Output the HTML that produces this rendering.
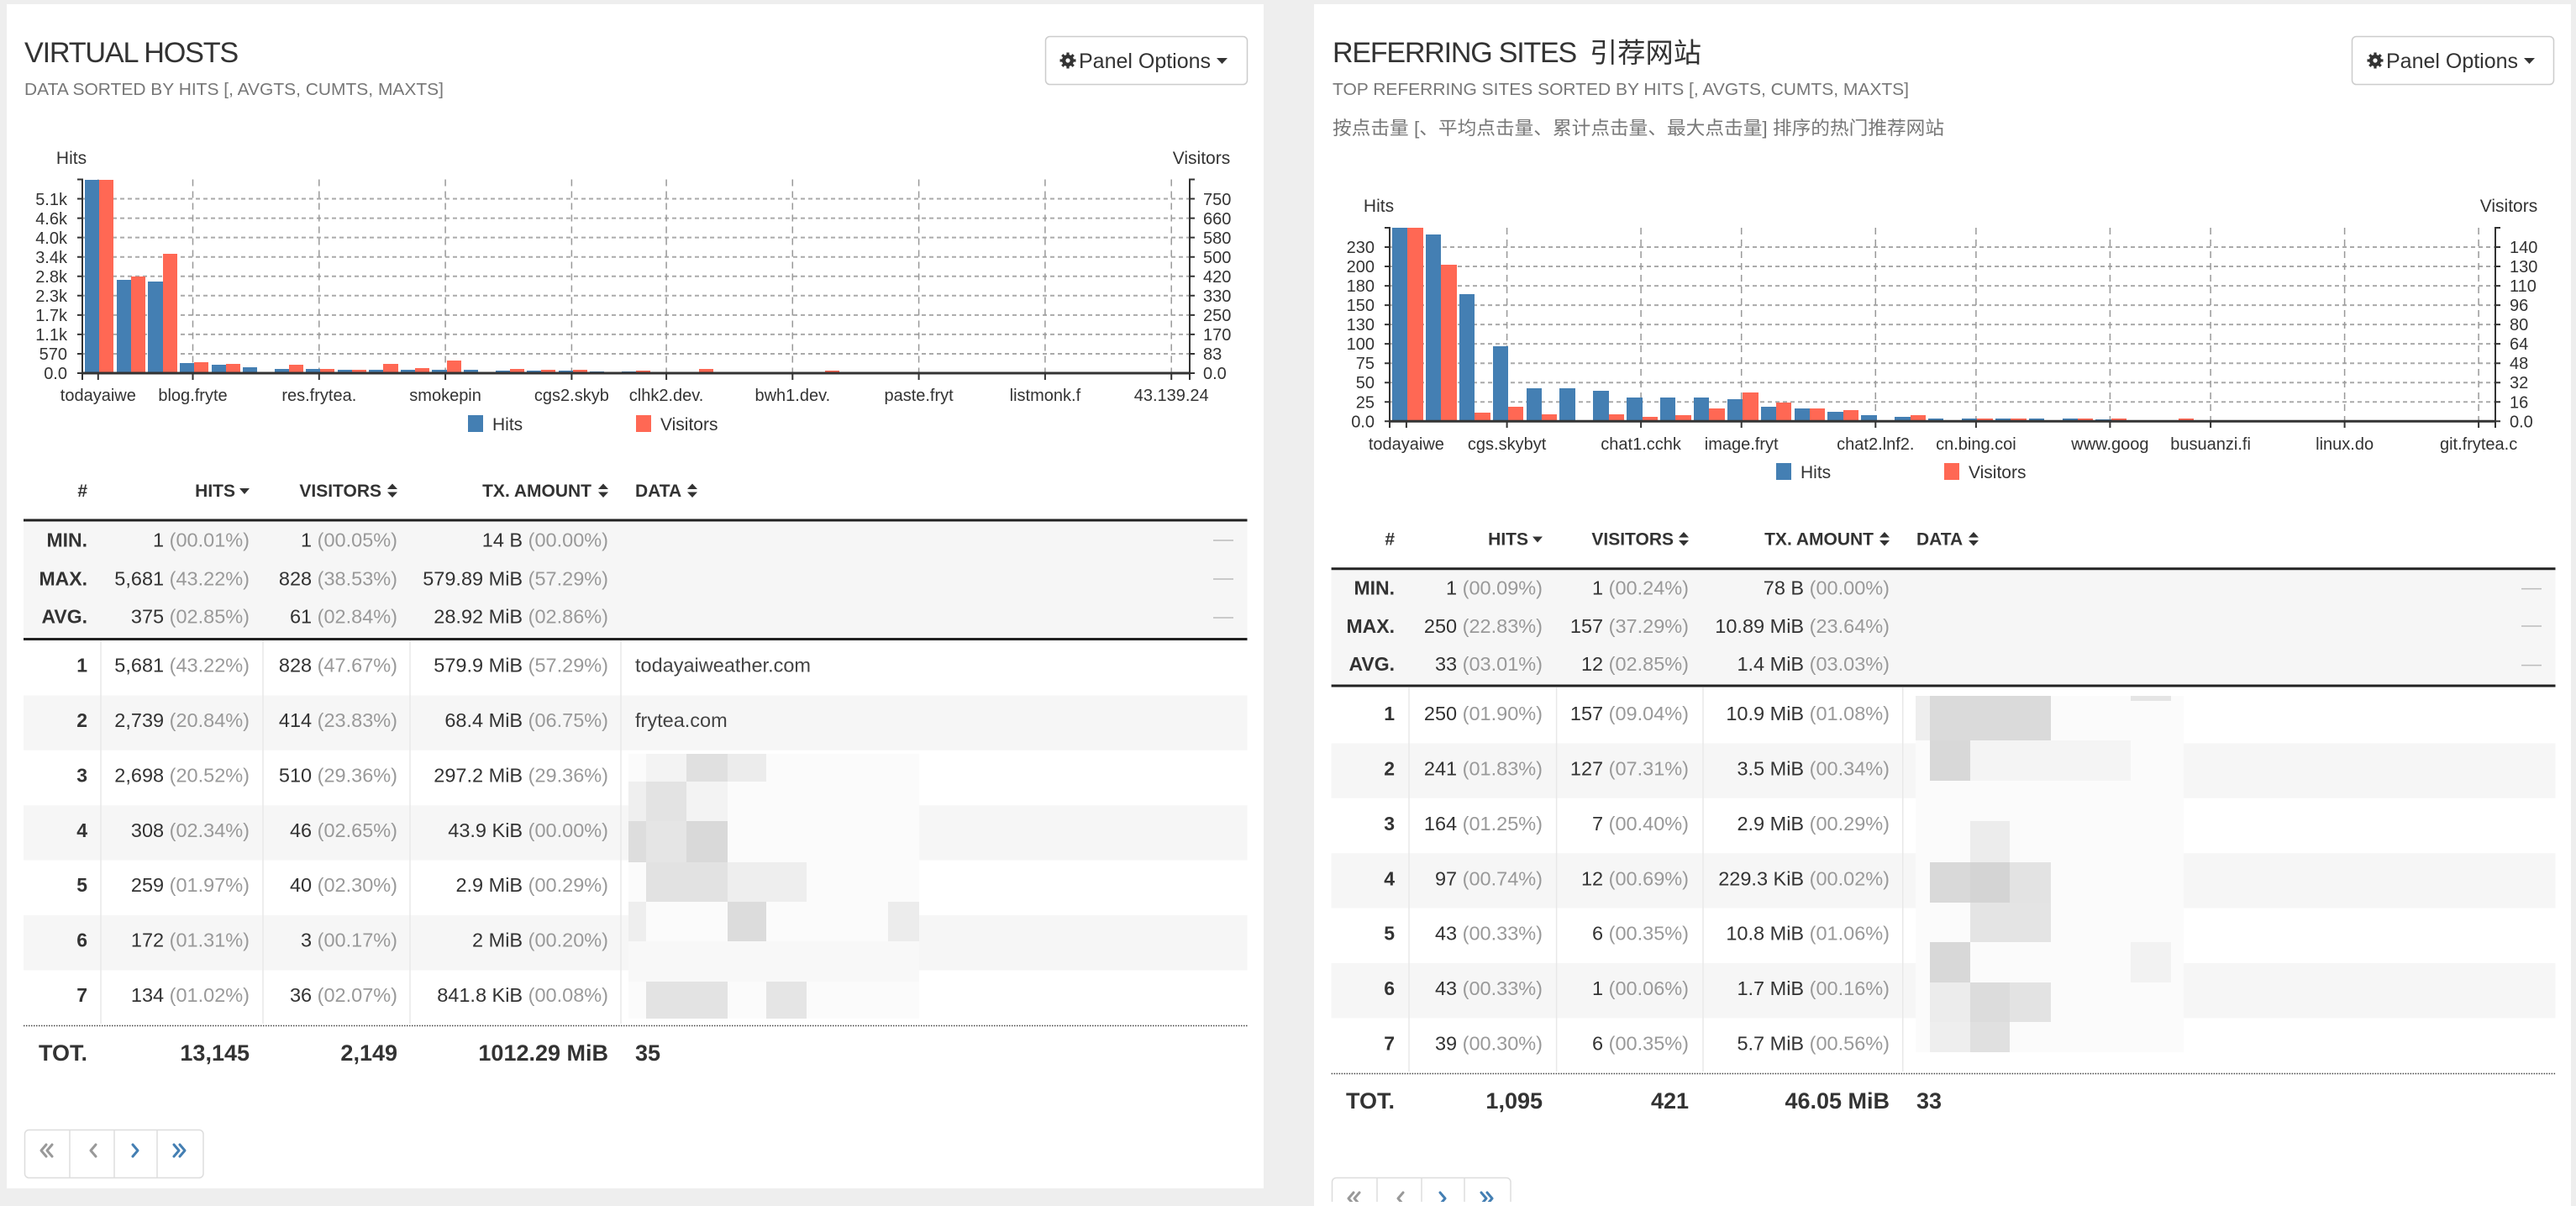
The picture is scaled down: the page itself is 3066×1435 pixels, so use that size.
<!DOCTYPE html>
<html><head><meta charset="utf-8">
<style>
body{margin:0;width:3066px;height:1430px;background:#eeeeee;position:relative;overflow:hidden;font-family:"Liberation Sans",Arial,sans-serif}
.panel{position:absolute;background:#fff}
svg{position:absolute;left:0;top:0}
.bars{position:absolute;display:flex;align-items:flex-end}
.bars>div{flex:none;display:flex;align-items:flex-end;box-sizing:border-box;height:100%}
.L>div{width:37.57px;padding-left:3.3px}
.L i{width:17.1px}
.R>div{width:39.88px;padding-left:3px}
.R i{width:18.4px}
i{display:block;flex:none}
.b{background:#447fb3}.r{background:#ff6854}
.t{font-size:34px;fill:#333;letter-spacing:-1.2px}
.st{font-size:20.6px;fill:#777}
.ax{font-size:20px;fill:#333}
.axe{font-size:20px;fill:#333;text-anchor:end}
.axm{font-size:20px;fill:#333;text-anchor:middle}
.lab{font-size:21px;fill:#333}
.th{font-size:21px;font-weight:bold;fill:#333;text-anchor:end}
.thl{font-size:21px;font-weight:bold;fill:#333}
.d{font-size:23.5px;fill:#333;text-anchor:end}
.dl{font-size:23.5px;fill:#444}
.p{fill:#999}
.sl{font-size:23px;font-weight:bold;fill:#333;text-anchor:end}
.tot{font-size:27px;font-weight:bold;fill:#333;text-anchor:end}
.totl{font-size:27px;font-weight:bold;fill:#333}
.btn{font-size:25px;fill:#333}
</style></head><body>
<div class="panel" style="left:8px;top:5px;width:1496px;height:1409px"></div>
<div class="panel" style="left:1564px;top:5px;width:1496px;height:1430px"></div>

<svg width="3066" height="1430">
<g fill="none" stroke="#aaa" stroke-width="2" stroke-dasharray="5,4">
<path d="M98,420.95H1416M98,397.9H1416M98,374.85H1416M98,351.8H1416M98,328.75H1416M98,305.7H1416M98,282.65H1416M98,259.6H1416M98,236.55H1416"/>
<path d="M1654,478.27H2970M1654,455.24H2970M1654,432.21H2970M1654,409.18H2970M1654,386.15H2970M1654,363.12H2970M1654,340.09H2970M1654,317.06H2970M1654,294.03H2970"/>
</g>
<g fill="none" stroke="#999" stroke-width="1.5" stroke-dasharray="8,6">
<path d="M116.8,213.5V444M229.5,213.5V444M379.8,213.5V444M530.1,213.5V444M680.4,213.5V444M793.1,213.5V444M943.3,213.5V444M1093.6,213.5V444M1243.9,213.5V444M1394.2,213.5V444"/>
<path d="M1673.9,271V501.3M1793.6,271V501.3M1953.1,271V501.3M2072.7,271V501.3M2232.3,271V501.3M2351.9,271V501.3M2511.4,271V501.3M2631.1,271V501.3M2790.6,271V501.3M2950.1,271V501.3"/>
</g>
</svg>

<div class="bars L" style="left:98px;top:213.5px;width:1315px;height:230.5px">
<div><i class="b" style="height:230.5px"></i><i class="r" style="height:230.5px"></i></div>
<div><i class="b" style="height:111.1px"></i><i class="r" style="height:115.3px"></i></div>
<div><i class="b" style="height:109.5px"></i><i class="r" style="height:142px"></i></div>
<div><i class="b" style="height:12.5px"></i><i class="r" style="height:12.8px"></i></div>
<div><i class="b" style="height:10.5px"></i><i class="r" style="height:11.1px"></i></div>
<div><i class="b" style="height:7px"></i><i class="r" style="height:0.8px"></i></div>
<div><i class="b" style="height:5.4px"></i><i class="r" style="height:10px"></i></div>
<div><i class="b" style="height:4.7px"></i><i class="r" style="height:4.7px"></i></div>
<div><i class="b" style="height:3.7px"></i><i class="r" style="height:3.7px"></i></div>
<div><i class="b" style="height:3.7px"></i><i class="r" style="height:11.3px"></i></div>
<div><i class="b" style="height:3.7px"></i><i class="r" style="height:5.7px"></i></div>
<div><i class="b" style="height:3.7px"></i><i class="r" style="height:15.3px"></i></div>
<div><i class="b" style="height:3.7px"></i><i class="r" style="height:0.7px"></i></div>
<div><i class="b" style="height:2.7px"></i><i class="r" style="height:5px"></i></div>
<div><i class="b" style="height:2.7px"></i><i class="r" style="height:3.7px"></i></div>
<div><i class="b" style="height:2.7px"></i><i class="r" style="height:3.7px"></i></div>
<div><i class="b" style="height:2px"></i><i class="r" style="height:0.7px"></i></div>
<div><i class="b" style="height:2px"></i><i class="r" style="height:3.3px"></i></div>
<div><i class="b" style="height:1.5px"></i><i class="r" style="height:0.7px"></i></div>
<div><i class="b" style="height:1.2px"></i><i class="r" style="height:5.3px"></i></div>
<div><i class="b" style="height:1.2px"></i><i class="r" style="height:0.7px"></i></div>
<div><i class="b" style="height:1.2px"></i><i class="r" style="height:1px"></i></div>
<div><i class="b" style="height:1px"></i><i class="r" style="height:0.7px"></i></div>
<div><i class="b" style="height:1px"></i><i class="r" style="height:3.3px"></i></div>
<div><i class="b" style="height:1px"></i><i class="r" style="height:0.7px"></i></div>
<div><i class="b" style="height:0.8px"></i><i class="r" style="height:1px"></i></div>
<div><i class="b" style="height:0.6px"></i><i class="r" style="height:0.5px"></i></div>
<div><i class="b" style="height:0.6px"></i><i class="r" style="height:0.5px"></i></div>
<div><i class="b" style="height:0.6px"></i><i class="r" style="height:0.5px"></i></div>
<div><i class="b" style="height:0.6px"></i><i class="r" style="height:0.5px"></i></div>
<div><i class="b" style="height:0.6px"></i><i class="r" style="height:0.5px"></i></div>
<div><i class="b" style="height:0.6px"></i><i class="r" style="height:0.5px"></i></div>
<div><i class="b" style="height:0.6px"></i><i class="r" style="height:0.5px"></i></div>
<div><i class="b" style="height:0.6px"></i><i class="r" style="height:0.5px"></i></div>
<div><i class="b" style="height:0.6px"></i><i class="r" style="height:0.5px"></i></div>
</div>

<div class="bars R" style="left:1654px;top:271px;width:1316px;height:230.3px">
<div><i class="b" style="height:230.3px"></i><i class="r" style="height:230.3px"></i></div>
<div><i class="b" style="height:222.2px"></i><i class="r" style="height:186.3px"></i></div>
<div><i class="b" style="height:151.2px"></i><i class="r" style="height:10.3px"></i></div>
<div><i class="b" style="height:89.4px"></i><i class="r" style="height:17.6px"></i></div>
<div><i class="b" style="height:39.6px"></i><i class="r" style="height:8.8px"></i></div>
<div><i class="b" style="height:39.6px"></i><i class="r" style="height:1.5px"></i></div>
<div><i class="b" style="height:36px"></i><i class="r" style="height:8.8px"></i></div>
<div><i class="b" style="height:28.3px"></i><i class="r" style="height:5px"></i></div>
<div><i class="b" style="height:28.3px"></i><i class="r" style="height:7.3px"></i></div>
<div><i class="b" style="height:28.3px"></i><i class="r" style="height:15px"></i></div>
<div><i class="b" style="height:26.7px"></i><i class="r" style="height:34px"></i></div>
<div><i class="b" style="height:17.3px"></i><i class="r" style="height:22.7px"></i></div>
<div><i class="b" style="height:15.3px"></i><i class="r" style="height:15.3px"></i></div>
<div><i class="b" style="height:11px"></i><i class="r" style="height:13px"></i></div>
<div><i class="b" style="height:7px"></i><i class="r" style="height:0.7px"></i></div>
<div><i class="b" style="height:5px"></i><i class="r" style="height:7px"></i></div>
<div><i class="b" style="height:3.7px"></i><i class="r" style="height:1px"></i></div>
<div><i class="b" style="height:3.3px"></i><i class="r" style="height:3.3px"></i></div>
<div><i class="b" style="height:3.3px"></i><i class="r" style="height:3.3px"></i></div>
<div><i class="b" style="height:3.3px"></i><i class="r" style="height:1px"></i></div>
<div><i class="b" style="height:3.3px"></i><i class="r" style="height:3.3px"></i></div>
<div><i class="b" style="height:2.3px"></i><i class="r" style="height:3.3px"></i></div>
<div><i class="b" style="height:1.7px"></i><i class="r" style="height:1px"></i></div>
<div><i class="b" style="height:1.7px"></i><i class="r" style="height:3.3px"></i></div>
<div><i class="b" style="height:1.5px"></i><i class="r" style="height:1px"></i></div>
<div><i class="b" style="height:1.5px"></i><i class="r" style="height:1px"></i></div>
<div><i class="b" style="height:1.5px"></i><i class="r" style="height:1px"></i></div>
<div><i class="b" style="height:1.5px"></i><i class="r" style="height:1px"></i></div>
<div><i class="b" style="height:1.5px"></i><i class="r" style="height:1px"></i></div>
<div><i class="b" style="height:1.5px"></i><i class="r" style="height:1px"></i></div>
<div><i class="b" style="height:1.5px"></i><i class="r" style="height:1px"></i></div>
<div><i class="b" style="height:1.5px"></i><i class="r" style="height:1px"></i></div>
<div><i class="b" style="height:1.5px"></i><i class="r" style="height:1px"></i></div>
</div>

<svg width="3066" height="1430" font-family="'Liberation Sans', Arial, sans-serif">
<!-- ===== LEFT PANEL HEADER ===== -->
<text class="t" x="29" y="74" textLength="254" lengthAdjust="spacingAndGlyphs">VIRTUAL HOSTS</text>
<text class="st" x="29" y="113" textLength="499" lengthAdjust="spacingAndGlyphs">DATA SORTED BY HITS [, AVGTS, CUMTS, MAXTS]</text>
<rect x="1244.5" y="43.5" width="240" height="57" rx="5" fill="#fff" stroke="#ccc" stroke-width="1.5"/>
<g transform="translate(1271,72)" fill="#333"><circle r="7"/><g stroke="#333" stroke-width="3.2"><path d="M0,-9.5V9.5M-9.5,0H9.5M-6.7,-6.7L6.7,6.7M-6.7,6.7L6.7,-6.7"/></g><circle r="2.6" fill="#fff"/></g>
<text class="btn" x="1284" y="81">Panel Options</text>
<polygon points="1448,69 1461,69 1454.5,76" fill="#333"/>

<!-- ===== RIGHT PANEL HEADER ===== -->
<text class="t" x="1586" y="74" textLength="290" lengthAdjust="spacingAndGlyphs">REFERRING SITES</text>
<text x="1892" y="74" font-size="32.5" fill="#333" font-family="'Liberation Sans','Noto Sans CJK SC',sans-serif" textLength="133" lengthAdjust="spacingAndGlyphs">引荐网站</text>
<text class="st" x="1586" y="113" textLength="686" lengthAdjust="spacingAndGlyphs">TOP REFERRING SITES SORTED BY HITS [, AVGTS, CUMTS, MAXTS]</text>
<text x="1586" y="160" font-size="22" fill="#777" font-family="'Liberation Sans','Noto Sans CJK SC',sans-serif" textLength="728" lengthAdjust="spacingAndGlyphs">按点击量 [、平均点击量、累计点击量、最大点击量] 排序的热门推荐网站</text>
<rect x="2799.5" y="43.5" width="240" height="57" rx="5" fill="#fff" stroke="#ccc" stroke-width="1.5"/>
<g transform="translate(2827,72)" fill="#333"><circle r="7"/><g stroke="#333" stroke-width="3.2"><path d="M0,-9.5V9.5M-9.5,0H9.5M-6.7,-6.7L6.7,6.7M-6.7,6.7L6.7,-6.7"/></g><circle r="2.6" fill="#fff"/></g>
<text class="btn" x="2840" y="81">Panel Options</text>
<polygon points="3004,69 3017,69 3010.5,76" fill="#333"/>

<!-- ===== LEFT CHART AXES ===== -->
<text class="lab" x="85" y="195" text-anchor="middle">Hits</text>
<text class="lab" x="1430" y="195" text-anchor="middle">Visitors</text>
<g fill="none" stroke="#333" stroke-width="2">
<path d="M92,213.5H98V444M1422,213.5H1416V444"/>
<path d="M92,420.95H98M92,397.9H98M92,374.85H98M92,351.8H98M92,328.75H98M92,305.7H98M92,282.65H98M92,259.6H98M92,236.55H98M92,444H98"/>
<path d="M1416,420.95H1422M1416,397.9H1422M1416,374.85H1422M1416,351.8H1422M1416,328.75H1422M1416,305.7H1422M1416,282.65H1422M1416,259.6H1422M1416,236.55H1422M1416,444H1422"/>
<path d="M98,452V444M1416,452V444M116.8,444V452M229.5,444V452M379.8,444V452M530.1,444V452M680.4,444V452M793.1,444V452M943.3,444V452M1093.6,444V452M1243.9,444V452M1394.2,444V452"/>
</g>
<path d="M97,444H1417" stroke="#333" stroke-width="3"/>
<text class="axe" x="80" y="451">0.0</text><text class="axe" x="80" y="428">570</text><text class="axe" x="80" y="405">1.1k</text><text class="axe" x="80" y="382">1.7k</text><text class="axe" x="80" y="359">2.3k</text><text class="axe" x="80" y="336">2.8k</text><text class="axe" x="80" y="313">3.4k</text><text class="axe" x="80" y="290">4.0k</text><text class="axe" x="80" y="267">4.6k</text><text class="axe" x="80" y="244">5.1k</text>
<text class="ax" x="1432" y="451">0.0</text><text class="ax" x="1432" y="428">83</text><text class="ax" x="1432" y="405">170</text><text class="ax" x="1432" y="382">250</text><text class="ax" x="1432" y="359">330</text><text class="ax" x="1432" y="336">420</text><text class="ax" x="1432" y="313">500</text><text class="ax" x="1432" y="290">580</text><text class="ax" x="1432" y="267">660</text><text class="ax" x="1432" y="244">750</text>
<text class="axm" x="116.8" y="477">todayaiwe</text><text class="axm" x="229.5" y="477">blog.fryte</text><text class="axm" x="379.8" y="477">res.frytea.</text><text class="axm" x="530.1" y="477">smokepin</text><text class="axm" x="680.4" y="477">cgs2.skyb</text><text class="axm" x="793.1" y="477">clhk2.dev.</text><text class="axm" x="943.3" y="477">bwh1.dev.</text><text class="axm" x="1093.6" y="477">paste.fryt</text><text class="axm" x="1243.9" y="477">listmonk.f</text><text class="axm" x="1394.2" y="477">43.139.24</text>
<rect x="557" y="494" width="18" height="20" fill="#447fb3"/><text class="lab" x="586" y="512">Hits</text>
<rect x="757" y="494" width="18" height="20" fill="#ff6854"/><text class="lab" x="786" y="512">Visitors</text>

<!-- ===== RIGHT CHART AXES ===== -->
<text class="lab" x="1641" y="252" text-anchor="middle">Hits</text>
<text class="lab" x="2986" y="252" text-anchor="middle">Visitors</text>
<g fill="none" stroke="#333" stroke-width="2">
<path d="M1648,271H1654V501.3M2976,271H2970V501.3"/>
<path d="M1648,478.27H1654M1648,455.24H1654M1648,432.21H1654M1648,409.18H1654M1648,386.15H1654M1648,363.12H1654M1648,340.09H1654M1648,317.06H1654M1648,294.03H1654M1648,501.3H1654"/>
<path d="M2970,478.27H2976M2970,455.24H2976M2970,432.21H2976M2970,409.18H2976M2970,386.15H2976M2970,363.12H2976M2970,340.09H2976M2970,317.06H2976M2970,294.03H2976M2970,501.3H2976"/>
<path d="M1654,509V501M2970,509V501M1673.9,501V509M1793.6,501V509M1953.1,501V509M2072.7,501V509M2232.3,501V509M2351.9,501V509M2511.4,501V509M2631.1,501V509M2790.6,501V509M2950.1,501V509"/>
</g>
<path d="M1653,501.3H2971" stroke="#333" stroke-width="3"/>
<text class="axe" x="1636" y="508.3">0.0</text><text class="axe" x="1636" y="485.3">25</text><text class="axe" x="1636" y="462.2">50</text><text class="axe" x="1636" y="439.2">75</text><text class="axe" x="1636" y="416.2">100</text><text class="axe" x="1636" y="393.2">130</text><text class="axe" x="1636" y="370.1">150</text><text class="axe" x="1636" y="347.1">180</text><text class="axe" x="1636" y="324.1">200</text><text class="axe" x="1636" y="301">230</text>
<text class="ax" x="2987" y="508.3">0.0</text><text class="ax" x="2987" y="485.3">16</text><text class="ax" x="2987" y="462.2">32</text><text class="ax" x="2987" y="439.2">48</text><text class="ax" x="2987" y="416.2">64</text><text class="ax" x="2987" y="393.2">80</text><text class="ax" x="2987" y="370.1">96</text><text class="ax" x="2987" y="347.1">110</text><text class="ax" x="2987" y="324.1">130</text><text class="ax" x="2987" y="301">140</text>
<text class="axm" x="1673.9" y="535">todayaiwe</text><text class="axm" x="1793.6" y="535">cgs.skybyt</text><text class="axm" x="1953.1" y="535">chat1.cchk</text><text class="axm" x="2072.7" y="535">image.fryt</text><text class="axm" x="2232.3" y="535">chat2.lnf2.</text><text class="axm" x="2351.9" y="535">cn.bing.coi</text><text class="axm" x="2511.4" y="535">www.goog</text><text class="axm" x="2631.1" y="535">busuanzi.fi</text><text class="axm" x="2790.6" y="535">linux.do</text><text class="axm" x="2950.1" y="535">git.frytea.c</text>
<rect x="2114" y="551" width="18" height="20" fill="#447fb3"/><text class="lab" x="2143" y="569">Hits</text>
<rect x="2314" y="551" width="18" height="20" fill="#ff6854"/><text class="lab" x="2343" y="569">Visitors</text>

<!-- ===== LEFT TABLE ===== -->
<rect x="28" y="620.5" width="1456.5" height="138.5" fill="#f6f6f6"/>
<rect x="28" y="827.4" width="1456.5" height="65.4" fill="#f6f6f6"/>
<rect x="28" y="958.2" width="1456.5" height="65.4" fill="#f6f6f6"/>
<rect x="28" y="1089" width="1456.5" height="65.4" fill="#f6f6f6"/>
<path d="M120,762V1218M313,762V1218M488,762V1218M739,762V1218" stroke="#e8e8e8" stroke-width="1.5"/>
<path d="M28,619H1484.5M28,760.5H1484.5" stroke="#222" stroke-width="3"/>
<path d="M28,1220.5H1484.5" stroke="#444" stroke-width="1.5" stroke-dasharray="1.5,1.5"/>
<text class="th" x="104" y="591">#</text>
<text class="th" x="280" y="591">HITS</text><polygon points="285,581 297,581 291,588" fill="#333"/>
<text class="th" x="454" y="591">VISITORS</text><polygon points="461,582 473,582 467,575.5" fill="#333"/><polygon points="461,585.5 473,585.5 467,592" fill="#333"/>
<text class="th" x="704" y="591">TX. AMOUNT</text><polygon points="712,582 724,582 718,575.5" fill="#333"/><polygon points="712,585.5 724,585.5 718,592" fill="#333"/>
<text class="thl" x="756" y="591">DATA</text><polygon points="818,582 830,582 824,575.5" fill="#333"/><polygon points="818,585.5 830,585.5 824,592" fill="#333"/>

<text class="sl" x="104" y="650.6">MIN.</text>
<text class="d" x="297" y="650.6">1<tspan class="p">&#160;(00.01%)</tspan></text>
<text class="d" x="473" y="650.6">1<tspan class="p">&#160;(00.05%)</tspan></text>
<text class="d" x="724" y="650.6">14 B<tspan class="p">&#160;(00.00%)</tspan></text>
<text class="sl" x="104" y="696.6">MAX.</text>
<text class="d" x="297" y="696.6">5,681<tspan class="p">&#160;(43.22%)</tspan></text>
<text class="d" x="473" y="696.6">828<tspan class="p">&#160;(38.53%)</tspan></text>
<text class="d" x="724" y="696.6">579.89 MiB<tspan class="p">&#160;(57.29%)</tspan></text>
<text class="sl" x="104" y="741.6">AVG.</text>
<text class="d" x="297" y="741.6">375<tspan class="p">&#160;(02.85%)</tspan></text>
<text class="d" x="473" y="741.6">61<tspan class="p">&#160;(02.84%)</tspan></text>
<text class="d" x="724" y="741.6">28.92 MiB<tspan class="p">&#160;(02.86%)</tspan></text>
<path d="M1444,643H1468M1444,689H1468M1444,735H1468" stroke="#bbb" stroke-width="1.5"/>

<text class="sl" x="104" y="799.6">1</text>
<text class="d" x="297" y="799.6">5,681<tspan class="p">&#160;(43.22%)</tspan></text>
<text class="d" x="473" y="799.6">828<tspan class="p">&#160;(47.67%)</tspan></text>
<text class="d" x="724" y="799.6">579.9 MiB<tspan class="p">&#160;(57.29%)</tspan></text>
<text class="dl" x="756" y="799.6">todayaiweather.com</text>
<text class="sl" x="104" y="865">2</text>
<text class="d" x="297" y="865">2,739<tspan class="p">&#160;(20.84%)</tspan></text>
<text class="d" x="473" y="865">414<tspan class="p">&#160;(23.83%)</tspan></text>
<text class="d" x="724" y="865">68.4 MiB<tspan class="p">&#160;(06.75%)</tspan></text>
<text class="dl" x="756" y="865">frytea.com</text>
<text class="sl" x="104" y="930.4">3</text>
<text class="d" x="297" y="930.4">2,698<tspan class="p">&#160;(20.52%)</tspan></text>
<text class="d" x="473" y="930.4">510<tspan class="p">&#160;(29.36%)</tspan></text>
<text class="d" x="724" y="930.4">297.2 MiB<tspan class="p">&#160;(29.36%)</tspan></text>
<text class="sl" x="104" y="995.8">4</text>
<text class="d" x="297" y="995.8">308<tspan class="p">&#160;(02.34%)</tspan></text>
<text class="d" x="473" y="995.8">46<tspan class="p">&#160;(02.65%)</tspan></text>
<text class="d" x="724" y="995.8">43.9 KiB<tspan class="p">&#160;(00.00%)</tspan></text>
<text class="sl" x="104" y="1061.2">5</text>
<text class="d" x="297" y="1061.2">259<tspan class="p">&#160;(01.97%)</tspan></text>
<text class="d" x="473" y="1061.2">40<tspan class="p">&#160;(02.30%)</tspan></text>
<text class="d" x="724" y="1061.2">2.9 MiB<tspan class="p">&#160;(00.29%)</tspan></text>
<text class="sl" x="104" y="1126.6">6</text>
<text class="d" x="297" y="1126.6">172<tspan class="p">&#160;(01.31%)</tspan></text>
<text class="d" x="473" y="1126.6">3<tspan class="p">&#160;(00.17%)</tspan></text>
<text class="d" x="724" y="1126.6">2 MiB<tspan class="p">&#160;(00.20%)</tspan></text>
<text class="sl" x="104" y="1192">7</text>
<text class="d" x="297" y="1192">134<tspan class="p">&#160;(01.02%)</tspan></text>
<text class="d" x="473" y="1192">36<tspan class="p">&#160;(02.07%)</tspan></text>
<text class="d" x="724" y="1192">841.8 KiB<tspan class="p">&#160;(00.08%)</tspan></text>

<!-- blurred data left -->
<rect x="748" y="897" width="346" height="315" fill="#fbfbfb"/>
<rect x="769" y="897" width="48" height="33" fill="#f3f3f3"/><rect x="817" y="897" width="49" height="33" fill="#e0e0e0"/><rect x="866" y="897" width="46" height="33" fill="#ececec"/>
<rect x="748" y="930" width="21" height="47" fill="#efefef"/><rect x="769" y="930" width="48" height="47" fill="#e3e3e3"/><rect x="817" y="930" width="49" height="47" fill="#f3f3f3"/>
<rect x="748" y="977" width="21" height="49" fill="#dddddd"/><rect x="769" y="977" width="48" height="49" fill="#e5e5e5"/><rect x="817" y="977" width="49" height="49" fill="#d9d9d9"/>
<rect x="769" y="1026" width="97" height="47" fill="#e2e2e2"/><rect x="866" y="1026" width="94" height="47" fill="#eeeeee"/>
<rect x="748" y="1073" width="21" height="47" fill="#eeeeee"/><rect x="866" y="1073" width="46" height="47" fill="#dcdcdc"/><rect x="1057" y="1073" width="37" height="47" fill="#ececec"/>
<rect x="748" y="1120" width="346" height="48" fill="#f8f8f8"/>
<rect x="769" y="1168" width="97" height="44" fill="#e3e3e3"/><rect x="912" y="1168" width="48" height="44" fill="#e5e5e5"/>

<text class="tot" x="104" y="1262">TOT.</text>
<text class="tot" x="297" y="1262">13,145</text>
<text class="tot" x="473" y="1262">2,149</text>
<text class="tot" x="724" y="1262">1012.29 MiB</text>
<text class="totl" x="756" y="1262">35</text>

<!-- pagination left -->
<rect x="29.5" y="1344.5" width="212.5" height="57" rx="5" fill="#fff" stroke="#ddd" stroke-width="1.5"/>
<path d="M83,1344.5V1401.5M136,1344.5V1401.5M187,1344.5V1401.5" stroke="#ddd" stroke-width="1.5"/>
<g fill="none" stroke-width="3" stroke-linecap="round" stroke-linejoin="round">
<polyline points="55,1362 49,1369 55,1376" stroke="#999"/><polyline points="62,1362 56,1369 62,1376" stroke="#999"/>
<polyline points="114,1362 108,1369 114,1376" stroke="#999"/>
<polyline points="158,1362 164,1369 158,1376" stroke="#447fb3"/>
<polyline points="207,1362 213,1369 207,1376" stroke="#447fb3"/><polyline points="214,1362 220,1369 214,1376" stroke="#447fb3"/>
</g>

<!-- ===== RIGHT TABLE ===== -->
<rect x="1584.6" y="678" width="1456.9" height="137" fill="#f6f6f6"/>
<rect x="1584.6" y="884.4" width="1456.9" height="65.4" fill="#f6f6f6"/>
<rect x="1584.6" y="1015.2" width="1456.9" height="65.4" fill="#f6f6f6"/>
<rect x="1584.6" y="1146" width="1456.9" height="65.4" fill="#f6f6f6"/>
<path d="M1677,818V1275M1852.6,818V1275M2027,818V1275M2264.7,818V1275" stroke="#e8e8e8" stroke-width="1.5"/>
<path d="M1584.6,676.8H3041.5M1584.6,816H3041.5" stroke="#222" stroke-width="3"/>
<path d="M1584.6,1277.5H3041.5" stroke="#444" stroke-width="1.5" stroke-dasharray="1.5,1.5"/>
<text class="th" x="1660" y="648.5">#</text>
<text class="th" x="1819" y="648.5">HITS</text><polygon points="1824,638.5 1836,638.5 1830,645.5" fill="#333"/>
<text class="th" x="1992" y="648.5">VISITORS</text><polygon points="1998,639.5 2010,639.5 2004,633" fill="#333"/><polygon points="1998,643 2010,643 2004,649.5" fill="#333"/>
<text class="th" x="2230" y="648.5">TX. AMOUNT</text><polygon points="2237,639.5 2249,639.5 2243,633" fill="#333"/><polygon points="2237,643 2249,643 2243,649.5" fill="#333"/>
<text class="thl" x="2281" y="648.5">DATA</text><polygon points="2343,639.5 2355,639.5 2349,633" fill="#333"/><polygon points="2343,643 2355,643 2349,649.5" fill="#333"/>

<text class="sl" x="1660" y="707.6">MIN.</text>
<text class="d" x="1836" y="707.6">1<tspan class="p">&#160;(00.09%)</tspan></text>
<text class="d" x="2010" y="707.6">1<tspan class="p">&#160;(00.24%)</tspan></text>
<text class="d" x="2249" y="707.6">78 B<tspan class="p">&#160;(00.00%)</tspan></text>
<text class="sl" x="1660" y="753.1">MAX.</text>
<text class="d" x="1836" y="753.1">250<tspan class="p">&#160;(22.83%)</tspan></text>
<text class="d" x="2010" y="753.1">157<tspan class="p">&#160;(37.29%)</tspan></text>
<text class="d" x="2249" y="753.1">10.89 MiB<tspan class="p">&#160;(23.64%)</tspan></text>
<text class="sl" x="1660" y="798.1">AVG.</text>
<text class="d" x="1836" y="798.1">33<tspan class="p">&#160;(03.01%)</tspan></text>
<text class="d" x="2010" y="798.1">12<tspan class="p">&#160;(02.85%)</tspan></text>
<text class="d" x="2249" y="798.1">1.4 MiB<tspan class="p">&#160;(03.03%)</tspan></text>
<path d="M3001,700.6H3025M3001,745H3025M3001,791.6H3025" stroke="#bbb" stroke-width="1.5"/>

<text class="sl" x="1660" y="857.1">1</text>
<text class="d" x="1836" y="857.1">250<tspan class="p">&#160;(01.90%)</tspan></text>
<text class="d" x="2010" y="857.1">157<tspan class="p">&#160;(09.04%)</tspan></text>
<text class="d" x="2249" y="857.1">10.9 MiB<tspan class="p">&#160;(01.08%)</tspan></text>
<text class="sl" x="1660" y="922.5">2</text>
<text class="d" x="1836" y="922.5">241<tspan class="p">&#160;(01.83%)</tspan></text>
<text class="d" x="2010" y="922.5">127<tspan class="p">&#160;(07.31%)</tspan></text>
<text class="d" x="2249" y="922.5">3.5 MiB<tspan class="p">&#160;(00.34%)</tspan></text>
<text class="sl" x="1660" y="987.9">3</text>
<text class="d" x="1836" y="987.9">164<tspan class="p">&#160;(01.25%)</tspan></text>
<text class="d" x="2010" y="987.9">7<tspan class="p">&#160;(00.40%)</tspan></text>
<text class="d" x="2249" y="987.9">2.9 MiB<tspan class="p">&#160;(00.29%)</tspan></text>
<text class="sl" x="1660" y="1053.3">4</text>
<text class="d" x="1836" y="1053.3">97<tspan class="p">&#160;(00.74%)</tspan></text>
<text class="d" x="2010" y="1053.3">12<tspan class="p">&#160;(00.69%)</tspan></text>
<text class="d" x="2249" y="1053.3">229.3 KiB<tspan class="p">&#160;(00.02%)</tspan></text>
<text class="sl" x="1660" y="1118.7">5</text>
<text class="d" x="1836" y="1118.7">43<tspan class="p">&#160;(00.33%)</tspan></text>
<text class="d" x="2010" y="1118.7">6<tspan class="p">&#160;(00.35%)</tspan></text>
<text class="d" x="2249" y="1118.7">10.8 MiB<tspan class="p">&#160;(01.06%)</tspan></text>
<text class="sl" x="1660" y="1184.1">6</text>
<text class="d" x="1836" y="1184.1">43<tspan class="p">&#160;(00.33%)</tspan></text>
<text class="d" x="2010" y="1184.1">1<tspan class="p">&#160;(00.06%)</tspan></text>
<text class="d" x="2249" y="1184.1">1.7 MiB<tspan class="p">&#160;(00.16%)</tspan></text>
<text class="sl" x="1660" y="1249.5">7</text>
<text class="d" x="1836" y="1249.5">39<tspan class="p">&#160;(00.30%)</tspan></text>
<text class="d" x="2010" y="1249.5">6<tspan class="p">&#160;(00.35%)</tspan></text>
<text class="d" x="2249" y="1249.5">5.7 MiB<tspan class="p">&#160;(00.56%)</tspan></text>

<!-- blurred data right -->
<rect x="2280" y="828" width="319" height="424" fill="#fbfbfb"/>
<rect x="2280" y="828" width="17" height="53" fill="#eeeeee"/><rect x="2297" y="828" width="144" height="53" fill="#dadada"/><rect x="2536" y="828" width="48" height="6" fill="#e5e5e5"/>
<rect x="2297" y="881" width="48" height="48" fill="#d8d8d8"/><rect x="2345" y="881" width="191" height="48" fill="#f4f4f4"/>
<rect x="2345" y="977" width="47" height="49" fill="#ececec"/>
<rect x="2297" y="1026" width="48" height="48" fill="#d9d9d9"/><rect x="2345" y="1026" width="47" height="48" fill="#d4d4d4"/><rect x="2392" y="1026" width="49" height="48" fill="#e3e3e3"/>
<rect x="2345" y="1074" width="96" height="47" fill="#e4e4e4"/>
<rect x="2297" y="1121" width="48" height="48" fill="#d8d8d8"/><rect x="2536" y="1121" width="48" height="48" fill="#f2f2f2"/>
<rect x="2297" y="1169" width="48" height="47" fill="#ececec"/><rect x="2345" y="1169" width="47" height="47" fill="#dcdcdc"/><rect x="2392" y="1169" width="49" height="47" fill="#e3e3e3"/>
<rect x="2297" y="1216" width="48" height="36" fill="#eeeeee"/><rect x="2345" y="1216" width="47" height="36" fill="#e0e0e0"/>

<text class="tot" x="1660" y="1319">TOT.</text>
<text class="tot" x="1836" y="1319">1,095</text>
<text class="tot" x="2010" y="1319">421</text>
<text class="tot" x="2249" y="1319">46.05 MiB</text>
<text class="totl" x="2281" y="1319">33</text>

<!-- pagination right -->
<rect x="1585.5" y="1401.5" width="212.5" height="57" rx="5" fill="#fff" stroke="#ddd" stroke-width="1.5"/>
<path d="M1639,1401.5V1458.5M1692,1401.5V1458.5M1743,1401.5V1458.5" stroke="#ddd" stroke-width="1.5"/>
<g fill="none" stroke-width="3" stroke-linecap="round" stroke-linejoin="round">
<polyline points="1611,1419 1605,1426 1611,1433" stroke="#999"/><polyline points="1618,1419 1612,1426 1618,1433" stroke="#999"/>
<polyline points="1670,1419 1664,1426 1670,1433" stroke="#999"/>
<polyline points="1714,1419 1720,1426 1714,1433" stroke="#447fb3"/>
<polyline points="1763,1419 1769,1426 1763,1433" stroke="#447fb3"/><polyline points="1770,1419 1776,1426 1770,1433" stroke="#447fb3"/>
</g>
</svg>
</body></html>
